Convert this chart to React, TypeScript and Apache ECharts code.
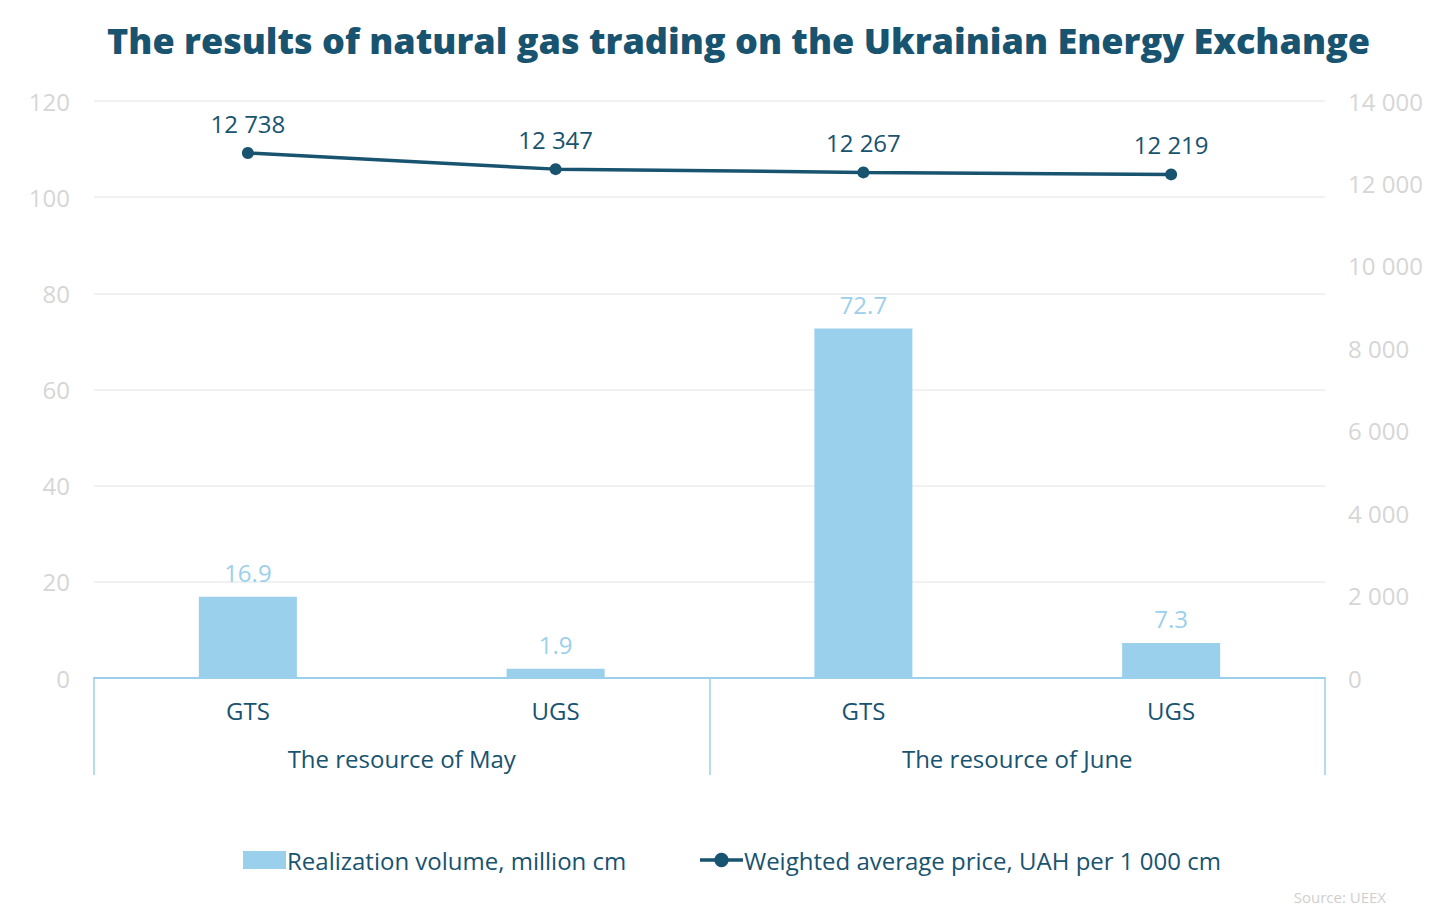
import React, { useEffect, useRef } from "react";
import * as echarts from "echarts";

const categories = ["GTS", "UGS", "GTS", "UGS"];
const groups = ["The resource of May", "The resource of June"];
const volume = [16.9, 1.9, 72.7, 7.3];
const price = [12738, 12347, 12267, 12219];
const seriesNames = ["Realization volume, million cm", "Weighted average price, UAH per 1 000 cm"];
const titleText = "The results of natural gas trading on the Ukrainian Energy Exchange";
const sourceText = "Source: UEEX";

const DARK = "#18536f";
const LIGHT = "#9bd0ed";
const GREY = "#d6d6d6";
const FONT = "'Open Sans', Lato, sans-serif";

const fmt = (v: number) => String(v).replace(/\B(?=(\d{3})+(?!\d))/g, " ");

export default function App() {
  const ref = useRef<HTMLDivElement>(null);
  useEffect(() => {
    if (!ref.current) return;
    const chart = echarts.init(ref.current, undefined, { renderer: "svg" });
    chart.setOption({
      animation: false,
      backgroundColor: "#ffffff",
      textStyle: { fontFamily: FONT },
      title: {
        text: titleText,
        left: 102,
        top: 17,
        textStyle: { fontFamily: FONT, fontSize: 36, fontWeight: 800, color: DARK },
      },
      legend: {
        bottom: 43,
        left: 238,
        itemGap: 72,
        itemWidth: 43,
        itemHeight: 18,
        textStyle: { fontFamily: FONT, fontSize: 24, color: DARK, padding: [0, 0, 0, -4] },
        data: [
          { name: seriesNames[0], icon: "rect" },
          { name: seriesNames[1], lineStyle: { width: 3.5, color: DARK } },
        ],
      },
      grid: { left: 94, right: 119, top: 101, bottom: 242, containLabel: false },
      xAxis: [
        {
          type: "category",
          data: categories,
          position: "bottom",
          axisLine: { show: true, lineStyle: { color: LIGHT, width: 2 } },
          axisTick: { show: false },
          axisLabel: { fontFamily: FONT, fontSize: 24, color: DARK, margin: 20 },
        },
        {
          type: "category",
          data: groups,
          position: "bottom",
          boundaryGap: true,
          axisLine: { show: false },
          axisTick: { show: true, length: 97, lineStyle: { color: LIGHT, width: 1.5 } },
          axisLabel: { fontFamily: FONT, fontSize: 24, color: DARK, margin: 68 },
        },
      ],
      yAxis: [
        {
          type: "value",
          min: 0,
          max: 120,
          interval: 20,
          axisLine: { show: false },
          axisTick: { show: false },
          splitLine: { lineStyle: { color: "#ececec", width: 1.5 } },
          axisLabel: { fontFamily: FONT, fontSize: 24, color: GREY, margin: 24 },
        },
        {
          type: "value",
          min: 0,
          max: 14000,
          interval: 2000,
          axisLine: { show: false },
          axisTick: { show: false },
          splitLine: { show: false },
          axisLabel: { fontFamily: FONT, fontSize: 24, color: GREY, margin: 23, formatter: (v: number) => fmt(v) },
        },
      ],
      series: [
        {
          name: seriesNames[0],
          type: "bar",
          xAxisIndex: 0,
          yAxisIndex: 0,
          data: volume,
          barWidth: 98,
          itemStyle: { color: LIGHT },
          label: {
            show: true,
            position: "top",
            distance: 12,
            fontFamily: FONT,
            fontSize: 24,
            color: LIGHT,
          },
        },
        {
          name: seriesNames[1],
          type: "line",
          xAxisIndex: 0,
          yAxisIndex: 1,
          data: price,
          symbol: "circle",
          symbolSize: 12,
          lineStyle: { color: DARK, width: 3.5 },
          itemStyle: { color: DARK },
          label: {
            show: true,
            position: "top",
            distance: 12,
            fontFamily: FONT,
            fontSize: 24,
            color: DARK,
            formatter: (p: any) => fmt(p.value),
          },
        },
      ],
      graphic: [
        {
          type: "text",
          right: 58,
          bottom: 16,
          style: { text: sourceText, fontFamily: FONT, fontSize: 15, fill: "#cfcfcf" },
        },
      ],
    });
    return () => chart.dispose();
  }, []);
  return <div ref={ref} style={{ position: "fixed", left: 0, top: 0, width: 1444, height: 920 }} />;
}
